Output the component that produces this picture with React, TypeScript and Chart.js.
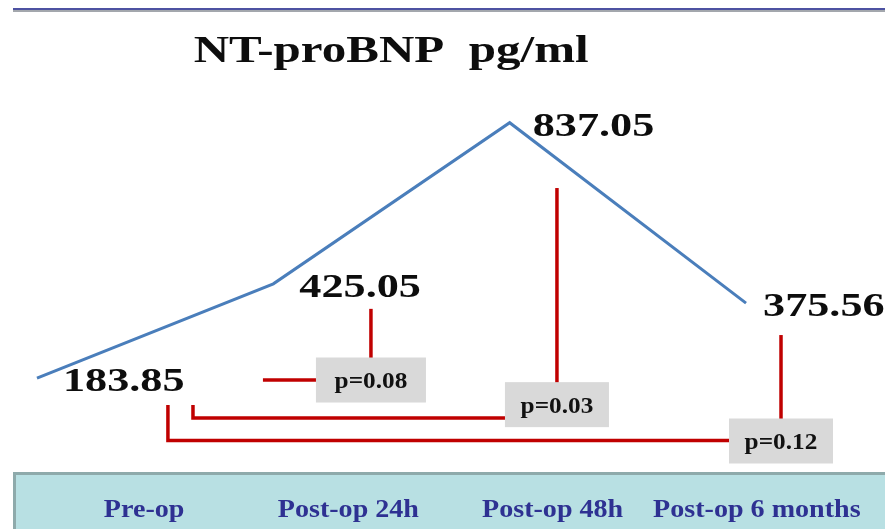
import React, { useEffect, useRef } from "react";
import { Chart, registerables } from "chart.js";

Chart.register(...registerables);

// NT-proBNP over the peri-operative course
const categories = ["Pre-op", "Post-op 24h", "Post-op 48h", "Post-op 6 months"];
const ntProBNP = [183.85, 425.05, 837.05, 375.56];
// p-values of each later time point against Pre-op
const pValues = ["0.08", "0.03", "0.12"];
const chartTitle = "NT-proBNP  pg/ml";

const SERIF = '"Liberation Serif", "Times New Roman", serif';
const RED = "#c00000";

function stretchedText(
  ctx: CanvasRenderingContext2D,
  text: string,
  x: number,
  y: number,
  font: string,
  color: string,
  sx: number,
  align: CanvasTextAlign
) {
  ctx.save();
  ctx.translate(x, y);
  ctx.scale(sx, 1);
  ctx.font = font;
  ctx.fillStyle = color;
  ctx.textAlign = align;
  ctx.textBaseline = "alphabetic";
  ctx.fillText(text, 0, 0);
  ctx.restore();
}

// Slide furniture: rule at the top and the shaded band holding the time points
const slideFrame = {
  id: "slideFrame",
  beforeDraw(chart: any) {
    const ctx = chart.ctx as CanvasRenderingContext2D;
    const w = chart.width;
    const h = chart.height;
    ctx.save();
    ctx.fillStyle = "#ffffff";
    ctx.fillRect(0, 0, w, h);
    ctx.fillStyle = "#4d52a2";
    ctx.fillRect(13, 8, w - 13, 2);
    ctx.fillStyle = "#a3a7ad";
    ctx.fillRect(13, 10, w - 13, 2);

    const bandTop = chart.chartArea.bottom + 22;
    ctx.fillStyle = "#b8e0e3";
    ctx.fillRect(13, bandTop, w - 13, h - bandTop);
    ctx.fillStyle = "#8eaaab";
    ctx.fillRect(13, bandTop, w - 13, 3);
    ctx.fillRect(13, bandTop, 3, h - bandTop);
    ctx.restore();
  },
};

// Comparison brackets (x in category units, y in pg/ml units)
const bracketLayout = [
  { cx: 1.413, cy: 179, top: 361, legX: 0.956, legTop: 179, rail: 179, w: 110 },
  { cx: 2.2, cy: 116, top: 670, legX: 0.66, legTop: 115, rail: 82, w: 104 },
  { cx: 3.148, cy: 23, top: 294, legX: 0.554, legTop: 115, rail: 24, w: 104 },
];

const annotations = {
  id: "annotations",
  afterDatasetsDraw(chart: any) {
    const ctx = chart.ctx as CanvasRenderingContext2D;
    const xs = chart.scales.x;
    const ys = chart.scales.y;
    const band = chart.scales.x2;

    // brackets
    ctx.save();
    ctx.strokeStyle = RED;
    ctx.lineWidth = 3.5;
    ctx.lineCap = "butt";
    ctx.lineJoin = "miter";
    const boxH = 45;
    bracketLayout.forEach((b, i) => {
      const cx = xs.getPixelForValue(b.cx);
      const cy = ys.getPixelForValue(b.cy);
      const top = ys.getPixelForValue(b.top);
      const legX = xs.getPixelForValue(b.legX);
      const legTop = ys.getPixelForValue(b.legTop);
      const rail = ys.getPixelForValue(b.rail);
      const boxL = cx - b.w / 2;

      ctx.beginPath();
      ctx.moveTo(legX, legTop);
      ctx.lineTo(legX, rail);
      ctx.lineTo(boxL + 2, rail);
      ctx.stroke();

      ctx.beginPath();
      ctx.moveTo(cx, top);
      ctx.lineTo(cx, cy - boxH / 2 + 2);
      ctx.stroke();

      ctx.fillStyle = "#d9d9d9";
      ctx.fillRect(boxL, cy - boxH / 2, b.w, boxH);
      stretchedText(ctx, "p=" + pValues[i], cx, cy + 8, "bold 23px " + SERIF, "#111111", 1.1, "center");
    });
    ctx.restore();

    // value labels beside each point
    const meta = chart.getDatasetMeta(0);
    const nudge = [26, 26, 23, 17];
    meta.data.forEach((pt: any, i: number) => {
      stretchedText(
        ctx,
        ntProBNP[i].toFixed(2),
        pt.x + nudge[i],
        pt.y + 13,
        "bold 33px " + SERIF,
        "#0d0d0d",
        1.34,
        "left"
      );
    });

    // title
    stretchedText(ctx, chartTitle, chart.width * 0.442, 62, "bold 38px " + SERIF, "#0d0d0d", 1.29, "center");

    // time point labels in the band
    categories.forEach((c, i) => {
      stretchedText(ctx, c, band.getPixelForValue(i), 517, "bold 26px " + SERIF, "#2e3192", 1.08, "center");
    });
  },
};

export default function App() {
  const canvasRef = useRef<HTMLCanvasElement | null>(null);

  useEffect(() => {
    const canvas = canvasRef.current;
    if (!canvas) return;
    const chart = new Chart(canvas, {
      type: "line",
      data: {
        datasets: [
          {
            label: "NT-proBNP",
            data: ntProBNP.map((v, i) => ({ x: i, y: v })),
            borderColor: "#4a7ebb",
            borderWidth: 3,
            pointRadius: 0,
            pointHoverRadius: 0,
            tension: 0,
            clip: false,
            xAxisID: "x",
            yAxisID: "y",
          },
        ],
      },
      options: {
        responsive: false,
        animation: false,
        events: [],
        layout: { padding: { left: 42, right: 26, top: 59, bottom: 79 } },
        plugins: {
          legend: { display: false },
          title: { display: false },
          tooltip: { enabled: false },
        },
        scales: {
          x: { type: "linear", min: 0.0212, max: 3.478, display: false },
          x2: { type: "category", labels: categories, offset: true, display: false },
          y: { type: "linear", min: 0, max: 1000, display: false },
        },
      },
      plugins: [slideFrame, annotations],
    });
    return () => chart.destroy();
  }, []);

  return (
    <div style={{ position: "absolute", left: 0, top: 0, width: 885, height: 529, overflow: "hidden" }}>
      <canvas ref={canvasRef} width={885} height={529} style={{ display: "block" }} />
    </div>
  );
}
